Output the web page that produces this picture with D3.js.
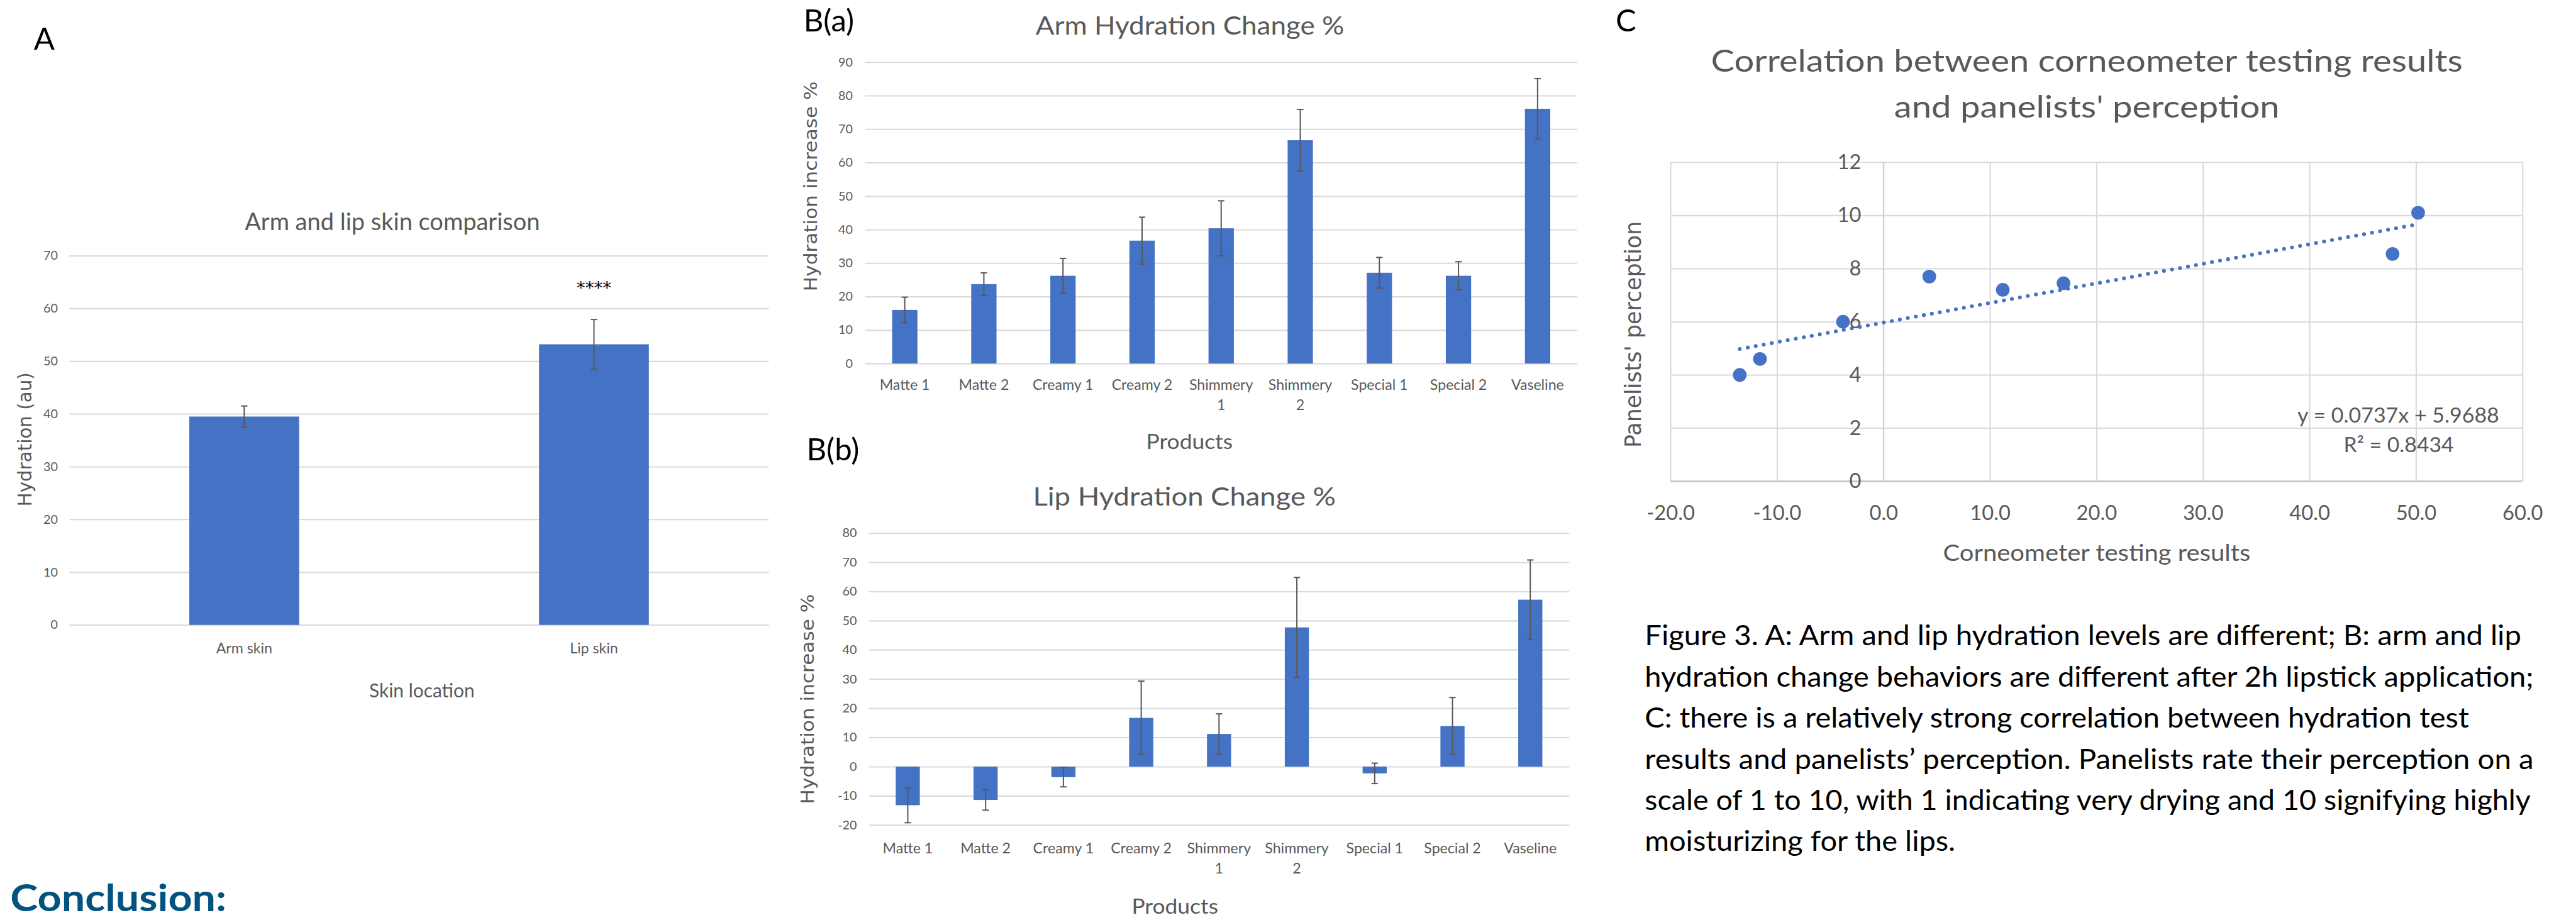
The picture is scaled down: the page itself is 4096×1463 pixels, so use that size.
<!DOCTYPE html>
<html>
<head>
<meta charset="utf-8">
<script src="https://cdn.jsdelivr.net/npm/d3@7"></script>
<style>
  html, body { margin: 0; padding: 0; background: #fff; overflow: hidden; }
</style>
</head>
<body>
<svg id="fig"></svg>
<script>
// values (estimates)

// A: arm vs lip skin
var skinSites = ["Arm skin", "Lip skin"];
var skinHydration = [39.5, 53.2];
var skinHydrationErr = [2.0, 4.7];
var skinTicks = [0, 10, 20, 30, 40, 50, 60, 70];

// B: hydration change per product
var products = ["Matte 1", "Matte 2", "Creamy 1", "Creamy 2", "Shimmery 1", "Shimmery 2", "Special 1", "Special 2", "Vaseline"];
var productLines = [["Matte 1"], ["Matte 2"], ["Creamy 1"], ["Creamy 2"], ["Shimmery", "1"], ["Shimmery", "2"], ["Special 1"], ["Special 2"], ["Vaseline"]];
var armChange = [16.0, 23.7, 26.2, 36.7, 40.4, 66.7, 27.1, 26.2, 76.1];
var armChangeErr = [3.8, 3.4, 5.2, 7.0, 8.2, 9.2, 4.6, 4.2, 9.0];
var armTicks = [0, 10, 20, 30, 40, 50, 60, 70, 80, 90];
var lipChange = [-13.2, -11.4, -3.6, 16.7, 11.2, 47.7, -2.3, 13.9, 57.2];
var lipChangeErr = [6.0, 3.5, 3.3, 12.6, 6.9, 17.1, 3.5, 9.8, 13.6];
var lipTicks = [-20, -10, 0, 10, 20, 30, 40, 50, 60, 70, 80];

// C: corneometer vs perception
var corneometer = [-13.5, -11.6, -3.8, 4.3, 11.2, 16.9, 47.8, 50.2];
var perception = [4.0, 4.6, 6.0, 7.7, 7.2, 7.45, 8.55, 10.1];
var trendSlope = 0.0737, trendIntercept = 5.9688, trendR2 = 0.8434;
var corneoTicks = [-20, -10, 0, 10, 20, 30, 40, 50, 60];
var perceptionTicks = [0, 2, 4, 6, 8, 10, 12];

var captionLines = [
  "Figure 3. A: Arm and lip hydration levels are different; B: arm and lip",
  "hydration change behaviors are different after 2h lipstick application;",
  "C: there is a relatively strong correlation between hydration test",
  "results and panelists\u2019 perception. Panelists rate their perception on a",
  "scale of 1 to 10, with 1 indicating very drying and 10 signifying highly",
  "moisturizing for the lips."
];
var captionWidths = [2046, 2075, 1924, 2075, 2068, 725];

// drawing works in the reference's own pixel space, viewBox shrinks it to the window
var svg = d3.select("#fig")
  .attr("width", 4096).attr("height", 1463)
  .attr("viewBox", "0 0 6012 2148");

var BLUE = "#4472c4", GRID = "#d9d9d9", GREY = "#595959";
var CAL = "Lato, 'Open Sans', sans-serif";
var WIDE = "'DejaVu Sans', Verdana, sans-serif";

function label(g, x, y, s, size, o) {
  o = o || {};
  var t = g.append("text")
    .attr("x", x).attr("y", y)
    .attr("font-family", o.family || CAL)
    .attr("font-size", size)
    .attr("fill", o.fill || GREY)
    .attr("text-anchor", o.anchor || "middle")
    .text(s);
  if (o.weight) t.attr("font-weight", o.weight);
  if (o.width) t.attr("textLength", o.width).attr("lengthAdjust", "spacingAndGlyphs");
  if (o.rotate) t.attr("transform", "rotate(-90," + x + "," + y + ")");
  return t;
}

function barChart(o) {
  var g = svg.append("g");
  var x = d3.scaleBand().domain(o.cats).range([o.x0, o.x1])
    .paddingInner(o.pad).paddingOuter(o.pad / 2);
  var y = d3.scaleLinear().domain(o.domain).range([o.yb, o.yt]);

  var ax = g.append("g")
    .attr("transform", "translate(" + o.x0 + ",0)")
    .call(d3.axisLeft(y).tickValues(o.ticks)
      .tickSize(-(o.x1 - o.x0)).tickPadding(o.tickPad)
      .tickFormat(function(d) { return String(d); }));
  ax.select(".domain").remove();
  ax.selectAll("line").attr("stroke", GRID).attr("stroke-width", 3);
  ax.selectAll("text")
    .attr("font-family", CAL).attr("font-size", 29).attr("fill", GREY);

  g.selectAll("rect.bar").data(o.values).enter().append("rect")
    .attr("class", "bar")
    .attr("x", function(d, i) { return x(o.cats[i]); })
    .attr("width", x.bandwidth())
    .attr("y", function(d) { return y(Math.max(0, d)); })
    .attr("height", function(d) { return Math.abs(y(d) - y(0)); })
    .attr("fill", BLUE);

  var eb = g.selectAll("g.err").data(o.values).enter().append("g")
    .attr("class", "err")
    .attr("stroke", GREY).attr("stroke-width", 3);
  eb.append("line")
    .attr("x1", function(d, i) { return x(o.cats[i]) + x.bandwidth() / 2; })
    .attr("x2", function(d, i) { return x(o.cats[i]) + x.bandwidth() / 2; })
    .attr("y1", function(d, i) { return y(d + o.err[i]); })
    .attr("y2", function(d, i) { return y(d - o.err[i]); });
  [1, -1].forEach(function(sgn) {
    eb.append("line")
      .attr("x1", function(d, i) { return x(o.cats[i]) + x.bandwidth() / 2 - 7.5; })
      .attr("x2", function(d, i) { return x(o.cats[i]) + x.bandwidth() / 2 + 7.5; })
      .attr("y1", function(d, i) { return y(d + sgn * o.err[i]); })
      .attr("y2", function(d, i) { return y(d + sgn * o.err[i]); });
  });

  // category labels (may wrap onto two lines)
  var cl = g.selectAll("text.cat").data(o.lines).enter().append("text")
    .attr("class", "cat")
    .attr("font-family", CAL).attr("font-size", 34).attr("fill", GREY)
    .attr("text-anchor", "middle");
  cl.selectAll("tspan").data(function(d, i) {
      return d.map(function(s) { return { s: s, cx: x(o.cats[i]) + x.bandwidth() / 2 }; });
    }).enter().append("tspan")
    .attr("x", function(d) { return d.cx; })
    .attr("y", function(d, j) { return o.labelY + j * 48; })
    .text(function(d) { return d.s; });

  return { g: g, x: x, y: y };
}

// ---------- A ----------
label(svg, 78, 116, "A", 72, { anchor: "start", fill: "#000" });
var A = barChart({
  cats: skinSites, lines: skinSites.map(function(s) { return [s]; }),
  values: skinHydration, err: skinHydrationErr,
  x0: 161, x1: 1794, yb: 1459, yt: 597, domain: [0, 70], ticks: skinTicks,
  pad: 0.686, tickPad: 27, labelY: 1526
});
label(svg, 915, 537, "Arm and lip skin comparison", 58, { width: 689 });
label(svg, 984, 1628, "Skin location", 46, { width: 246 });
label(svg, 72, 1026, "Hydration (au)", 43, { family: WIDE, rotate: true, width: 313 });
label(svg, A.x("Lip skin") + A.x.bandwidth() / 2, 686, "****", 38, { fill: "#000", family: WIDE, width: 81 });

// ---------- B(a) ----------
label(svg, 1875, 73, "B(a)", 72, { anchor: "start", fill: "#000" });
barChart({
  cats: products, lines: productLines, values: armChange, err: armChangeErr,
  x0: 2019, x1: 3681, yb: 848.7, yt: 145.3, domain: [0, 90], ticks: armTicks,
  pad: 0.68, tickPad: 29, labelY: 910
});
label(svg, 2777, 81, "Arm Hydration Change %", 60, { width: 720 });
label(svg, 2776, 1049, "Products", 48, { width: 202 });
label(svg, 1906, 435, "Hydration increase %", 42, { family: WIDE, rotate: true, width: 490 });

// ---------- B(b) ----------
label(svg, 1882, 1075, "B(b)", 72, { anchor: "start", fill: "#000" });
barChart({
  cats: products, lines: productLines, values: lipChange, err: lipChangeErr,
  x0: 2027.5, x1: 3662.5, yb: 1926.3, yt: 1244.7, domain: [-20, 80], ticks: lipTicks,
  pad: 0.69, tickPad: 28, labelY: 1992
});
label(svg, 2764, 1181, "Lip Hydration Change %", 60, { width: 707 });
label(svg, 2742, 2134, "Products", 48, { width: 202 });
label(svg, 1899, 1632, "Hydration increase %", 42, { family: WIDE, rotate: true, width: 490 });

// ---------- C ----------
label(svg, 3771, 73, "C", 72, { anchor: "start", fill: "#000" });
label(svg, 4871, 168, "Correlation between corneometer testing results", 72, { width: 1755 });
label(svg, 4871, 275, "and panelists' perception", 72, { width: 900 });

var cg = svg.append("g");
var cx = d3.scaleLinear().domain([-20, 60]).range([3899, 5888]);
var cy = d3.scaleLinear().domain([0, 12]).range([1123.6, 378.8]);

var hGrid = cg.append("g")
  .attr("transform", "translate(" + cx(-20) + ",0)")
  .call(d3.axisLeft(cy).tickValues(perceptionTicks).tickSize(-(cx(60) - cx(-20))).tickFormat(""));
var vGrid = cg.append("g")
  .attr("transform", "translate(0," + cy(0) + ")")
  .call(d3.axisBottom(cx).tickValues(corneoTicks).tickSize(-(cy(0) - cy(12))).tickPadding(57)
    .tickFormat(function(d) { return d.toFixed(1); }));
[hGrid, vGrid].forEach(function(a) {
  a.select(".domain").remove();
  a.selectAll("line").attr("stroke", GRID).attr("stroke-width", 3);
});
vGrid.selectAll("text").attr("font-family", CAL).attr("font-size", 48).attr("fill", GREY);
// zero lines a touch darker
cg.append("line").attr("x1", cx(-20)).attr("x2", cx(60)).attr("y1", cy(0)).attr("y2", cy(0))
  .attr("stroke", "#c8c8c8").attr("stroke-width", 4);
cg.append("line").attr("x1", cx(0)).attr("x2", cx(0)).attr("y1", cy(0)).attr("y2", cy(12))
  .attr("stroke", "#d0d0d0").attr("stroke-width", 3);

var yLab = cg.append("g")
  .attr("transform", "translate(" + cx(0) + ",0)")
  .call(d3.axisLeft(cy).tickValues(perceptionTicks).tickSize(0).tickPadding(52));
yLab.select(".domain").remove();
yLab.selectAll("text").attr("font-family", CAL).attr("font-size", 48).attr("fill", GREY);

var xExt = d3.extent(corneometer);
cg.append("path")
  .datum(xExt)
  .attr("d", d3.line()
    .x(function(d) { return cx(d); })
    .y(function(d) { return cy(trendSlope * d + trendIntercept); }))
  .attr("fill", "none").attr("stroke", BLUE).attr("stroke-width", 9)
  .attr("stroke-linecap", "round").attr("stroke-dasharray", "0 19");

cg.selectAll("circle").data(corneometer).enter().append("circle")
  .attr("cx", function(d) { return cx(d); })
  .attr("cy", function(d, i) { return cy(perception[i]); })
  .attr("r", 16).attr("fill", BLUE);

label(svg, 5598, 987, "y = " + trendSlope + "x + " + trendIntercept, 48, { width: 471 });
label(svg, 5599, 1055, "R\u00b2 = " + trendR2, 48, { width: 257 });
label(svg, 4894, 1309, "Corneometer testing results", 54, { width: 718 });
label(svg, 3830, 781, "Panelists' perception", 51, { family: WIDE, rotate: true, width: 529 });

// ---------- caption ----------
captionLines.forEach(function(s, i) {
  label(svg, 3839, 1507 + i * 96, s, 64, { anchor: "start", fill: "#000", width: captionWidths[i] });
});

label(svg, 23, 2127, "Conclusion:", 86, { anchor: "start", fill: "#03537f", weight: 700, width: 505 });
</script>
</body>
</html>
